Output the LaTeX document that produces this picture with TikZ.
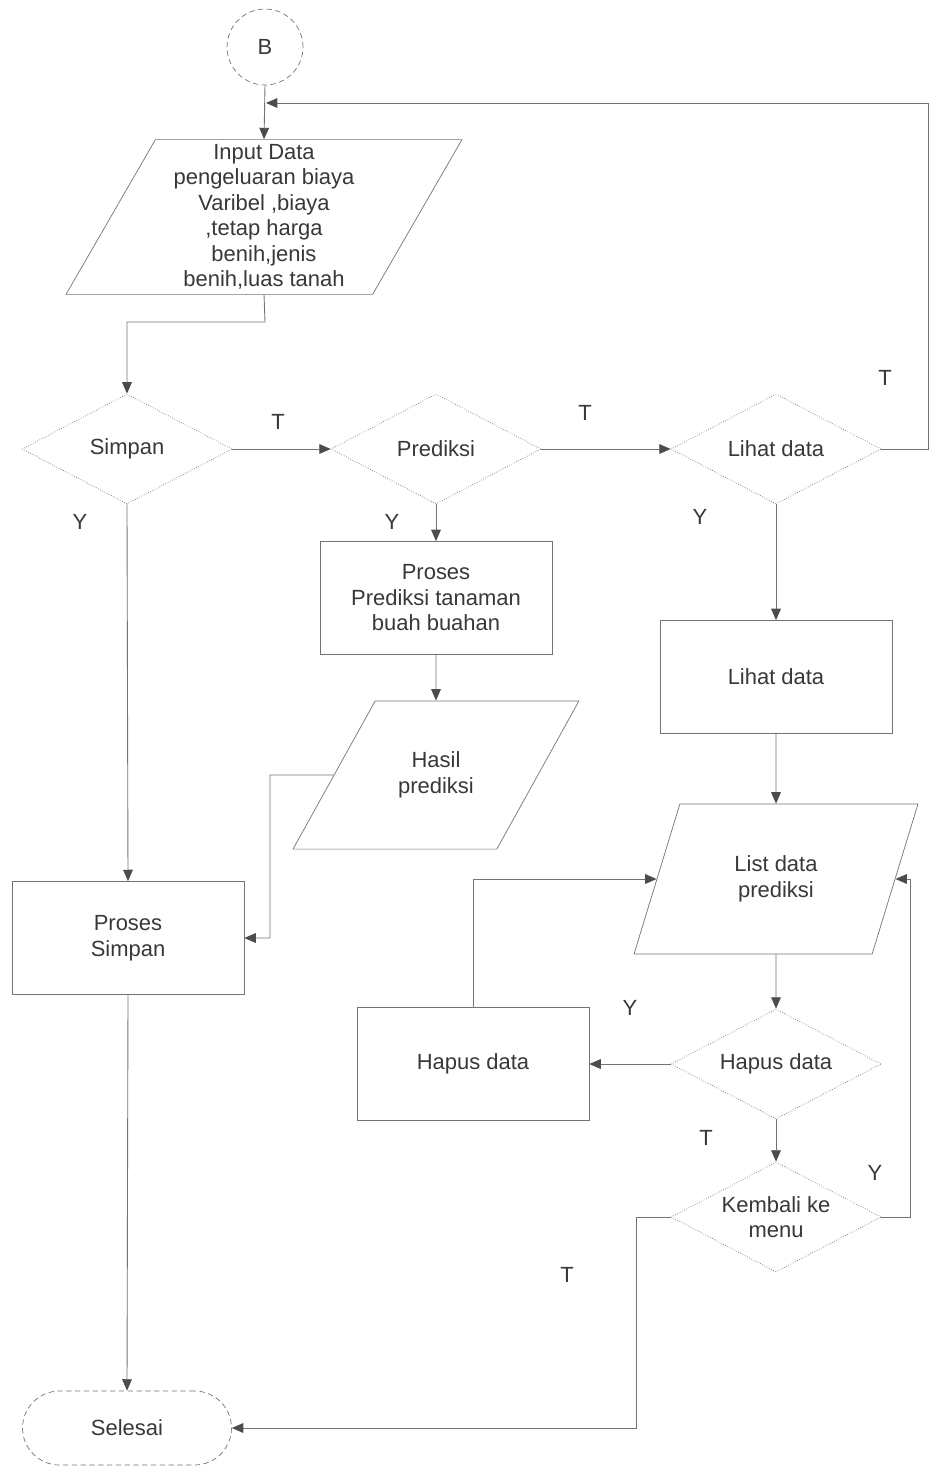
\documentclass[tikz,border=0pt]{standalone}
\usepackage{fontspec}
\setmainfont{Liberation Sans}
\usetikzlibrary{arrows.meta, positioning, shapes.geometric}
\definecolor{ln}{gray}{0.45}
\definecolor{txt}{gray}{0.22}

\begin{document}
\begin{tikzpicture}[
    x=0.02cm, y=-0.02cm,
    every node/.style={font=\fontsize{12.5}{14.5}\selectfont,text=txt,align=center},
    conn/.style={circle,draw=ln,densely dashed,minimum size=1.52cm,inner sep=0pt},
    dec/.style={diamond,draw=ln,densely dotted,aspect=1.9,minimum width=4.2cm,minimum height=2.2cm,inner sep=0pt},
    proc/.style={rectangle,draw=ln,minimum width=4.64cm,minimum height=2.26cm},
    io/.style={trapezium,draw=ln,trapezium stretches body,inner xsep=1pt},
    term/.style={rectangle,rounded corners=0.74cm,draw=ln,densely dashed,minimum width=4.18cm,minimum height=1.48cm},
    arr/.style={draw=ln,line width=0.5pt,-{Triangle[length=6.5pt,width=5.5pt,color=black!70]}}
  ]
    \useasboundingbox (0,0) rectangle (931,1467);

    % Start connector
    \node[conn] (b) at (265,47) {B};

    % Input
    \node[io,trapezium left angle=60,trapezium right angle=120,inner ysep=2.7pt,minimum width=7.92cm] (input) at (264,217)
      {Input Data\\pengeluaran biaya\\Varibel ,biaya\\,tetap harga\\benih,jenis\\benih,luas tanah};

    % Decisions (menu)
    \node[dec] (simpan) at (127,449) {Simpan};
    \node[dec] (prediksi) at (436,449) {Prediksi};
    \node[dec] (lihat) at (776,449) {Lihat data};

    % Prediksi branch
    \node[proc] (pprediksi) at (436,598) {Proses\\Prediksi tanaman\\buah buahan};
    \node[io,trapezium left angle=61,trapezium right angle=119,inner ysep=29.1pt,minimum width=5.72cm] (hasil) at (436,775) {Hasil\\prediksi};

    % Lihat data branch
    \node[proc] (plihat) at (776,677) {Lihat data};
    \node[io,trapezium left angle=73,trapezium right angle=107,inner ysep=29.6pt,minimum width=5.68cm] (list) at (776,879) {List data\\prediksi};
    \node[dec] (hapus) at (776,1064) {Hapus data};
    \node[proc] (phapus) at (473,1064) {Hapus data};
    \node[dec] (kembali) at (776,1217) {Kembali ke\\menu};

    % Simpan branch and end
    \node[proc] (psimpan) at (128,938) {Proses\\Simpan};
    \node[term] (selesai) at (127,1428) {Selesai};

    % Bends
    \coordinate (c1) at (270,775);
    \coordinate (c2) at (265,322);
    \coordinate (c3) at (928,103);
    \coordinate (c4) at (266,103);
    \coordinate (c5) at (910,1217);
    \coordinate (c6) at (636,1217);

    % Connections
    \draw[arr] (b.south) -- (input.north);
    \draw[arr] (lihat.east) -| (c3) -- (c4);
    \draw[arr] (input.south) -- (c2) -| (simpan.north);
    \draw[arr] (simpan.east) -- (prediksi.west);
    \draw[arr] (prediksi.east) -- (lihat.west);
    \draw[arr] (prediksi.south) -- (pprediksi.north);
    \draw[arr] (pprediksi.south) -- (hasil.north);
    \draw[arr] (hasil.west) -- (c1) |- (psimpan.east);
    \draw[arr] (simpan.south) -- (psimpan.north);
    \draw[arr] (psimpan.south) -- (selesai.north);
    \draw[arr] (lihat.south) -- (plihat.north);
    \draw[arr] (plihat.south) -- (list.north);
    \draw[arr] (list.south) -- (hapus.north);
    \draw[arr] (hapus.west) -- (phapus.east);
    \draw[arr] (phapus.north) |- (list.west);
    \draw[arr] (hapus.south) -- (kembali.north);
    \draw[arr] (kembali.east) -- (c5) |- (list.east);
    \draw[arr] (kembali.west) -- (c6) |- (selesai.east);

    % Branch labels
    \node (t1) at (278,422) {T};
    \node (t2) at (585,413) {T};
    \node (t3) at (885,378) {T};
    \node (y1) at (80,522) {Y};
    \node (y2) at (392,522) {Y};
    \node (y3) at (700,517) {Y};
    \node (y4) at (630,1008) {Y};
    \node (t4) at (706,1138) {T};
    \node (y5) at (875,1173) {Y};
    \node (t5) at (567,1275) {T};
  \end{tikzpicture}
\end{document}
